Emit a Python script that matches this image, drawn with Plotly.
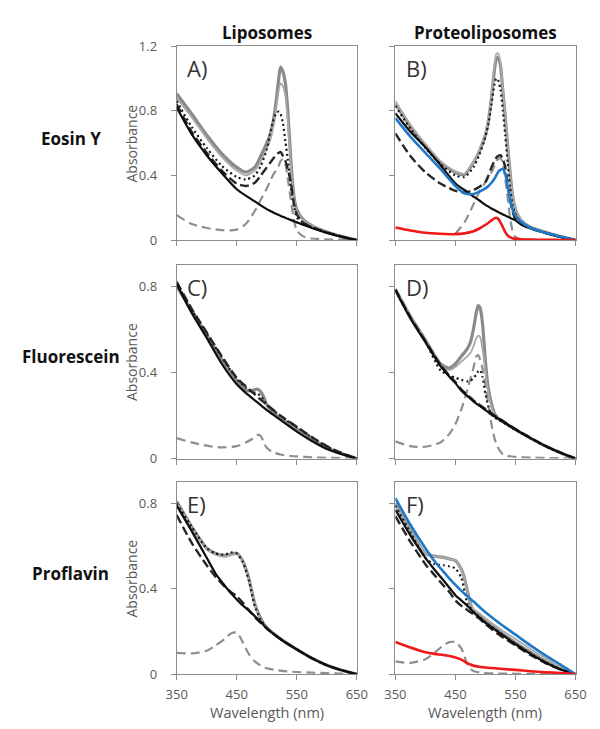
import plotly.graph_objects as go

# ---------------------------------------------------------------- data
# Panel A: Eosin Y, liposomes
wl_a = [350, 375, 400, 425, 450, 465, 480, 490, 500, 505, 510, 515, 520, 523,
        527, 531, 535, 540, 545, 550, 560, 575, 600, 625, 650]
a_base = [0.82, 0.655, 0.525, 0.415, 0.315, 0.275, 0.24, 0.215, 0.192, 0.182, 0.172,
          0.163, 0.155, 0.15, 0.144, 0.138, 0.132, 0.124, 0.117, 0.11, 0.096, 0.075,
          0.045, 0.02, 0.0]
a_fit = [0.84, 0.67, 0.54, 0.43, 0.35, 0.335, 0.355, 0.40, 0.45, 0.475, 0.50, 0.525,
         0.54, 0.545, 0.52, 0.49, 0.44, 0.36, 0.23, 0.16, 0.11, 0.08, 0.048, 0.022, 0.0]
a_total1 = [0.905, 0.78, 0.65, 0.535, 0.45, 0.42, 0.45, 0.52, 0.60, 0.645, 0.72, 0.84,
            1.0, 1.07, 1.04, 0.97, 0.80, 0.50, 0.28, 0.19, 0.13, 0.09, 0.05, 0.022, 0.0]
a_total2 = [0.88, 0.76, 0.63, 0.515, 0.43, 0.40, 0.43, 0.49, 0.565, 0.61, 0.68, 0.79,
            0.93, 0.97, 0.95, 0.89, 0.74, 0.47, 0.27, 0.18, 0.125, 0.088, 0.05, 0.022, 0.0]
a_sum = [0.86, 0.70, 0.57, 0.46, 0.39, 0.375, 0.40, 0.46, 0.56, 0.65, 0.73, 0.78,
         0.795, 0.78, 0.72, 0.61, 0.50, 0.33, 0.22, 0.14, 0.11, 0.08, 0.048, 0.022, 0.0]
a_dye = [0.155, 0.10, 0.075, 0.062, 0.065, 0.10, 0.18, 0.25, 0.32, 0.36, 0.40, 0.43,
         0.46, 0.49, 0.50, 0.47, 0.38, 0.25, 0.13, 0.06, 0.025, 0.01, 0.005, 0.003, 0.0]

# Panel B: Eosin Y, proteoliposomes
wl_b = [350, 375, 400, 425, 450, 465, 480, 490, 500, 505, 510, 515, 518, 521, 525,
        529, 533, 537, 541, 545, 550, 560, 575, 600, 625, 650]
b_base = [0.785, 0.67, 0.575, 0.465, 0.35, 0.31, 0.27, 0.245, 0.218, 0.207, 0.196,
          0.186, 0.18, 0.174, 0.166, 0.159, 0.152, 0.145, 0.138, 0.131, 0.122, 0.095,
          0.072, 0.045, 0.02, 0.0]
b_fit = [0.66, 0.52, 0.42, 0.35, 0.305, 0.295, 0.31, 0.33, 0.36, 0.40, 0.45, 0.49,
         0.51, 0.52, 0.525, 0.50, 0.45, 0.35, 0.25, 0.18, 0.13, 0.10, 0.072, 0.044, 0.02, 0.0]
b_total1 = [0.845, 0.70, 0.58, 0.48, 0.42, 0.405, 0.48, 0.55, 0.65, 0.74, 0.88, 1.05,
            1.12, 1.13, 1.08, 0.92, 0.76, 0.58, 0.42, 0.28, 0.19, 0.12, 0.08, 0.048,
            0.022, 0.0]
b_total2 = [0.86, 0.715, 0.595, 0.49, 0.425, 0.41, 0.485, 0.56, 0.665, 0.76, 0.90,
            1.08, 1.15, 1.155, 1.10, 0.94, 0.77, 0.59, 0.43, 0.29, 0.195, 0.122, 0.081,
            0.048, 0.022, 0.0]
b_sum = [0.83, 0.69, 0.57, 0.47, 0.40, 0.39, 0.45, 0.53, 0.64, 0.72, 0.84, 0.96, 1.0,
         0.99, 0.93, 0.80, 0.65, 0.48, 0.33, 0.22, 0.16, 0.11, 0.078, 0.046, 0.021, 0.0]
b_dye = [None, None, None, None, 0.04, 0.11, 0.22, 0.30, 0.36, 0.39, 0.42, 0.46, 0.49,
         0.50, 0.51, 0.47, 0.38, 0.26, 0.14, 0.06, 0.02, 0.005, 0.003, 0.002, 0.001, 0.0]
b_protein = [0.755, 0.64, 0.54, 0.44, 0.335, 0.29, 0.285, 0.30, 0.32, 0.335, 0.355,
             0.38, 0.40, 0.42, 0.435, 0.44, 0.41, 0.33, 0.25, 0.19, 0.15, 0.11, 0.075,
             0.045, 0.022, 0.0]
b_bound = [0.078, 0.06, 0.046, 0.04, 0.037, 0.042, 0.055, 0.072, 0.095, 0.108, 0.122,
           0.135, 0.138, 0.132, 0.11, 0.08, 0.05, 0.03, 0.018, 0.012, 0.008, 0.005,
           0.003, 0.002, 0.001, 0.0]

# Panel C: Fluorescein, liposomes
wl_c = [350, 375, 400, 425, 450, 465, 475, 480, 485, 490, 495, 500, 510, 525, 550,
        575, 600, 625, 650]
c_base = [0.81, 0.675, 0.56, 0.44, 0.345, 0.305, 0.282, 0.27, 0.26, 0.248, 0.236,
          0.225, 0.205, 0.175, 0.125, 0.082, 0.045, 0.02, 0.0]
c_fit = [0.82, 0.695, 0.585, 0.475, 0.375, 0.335, 0.31, 0.298, 0.285, 0.273, 0.262,
         0.25, 0.228, 0.195, 0.148, 0.10, 0.058, 0.026, 0.0]
c_total = [0.80, 0.685, 0.575, 0.46, 0.362, 0.318, 0.315, 0.32, 0.322, 0.31, 0.285,
           0.25, 0.215, 0.183, 0.138, 0.092, 0.051, 0.022, 0.0]
c_sum = [0.815, 0.69, 0.58, 0.47, 0.37, 0.33, 0.31, 0.305, 0.30, 0.29, 0.27, 0.25,
         0.226, 0.193, 0.146, 0.098, 0.056, 0.025, 0.0]
c_dye = [0.095, 0.075, 0.06, 0.052, 0.058, 0.075, 0.09, 0.10, 0.11, 0.105, 0.075, 0.05,
         0.03, 0.018, 0.01, 0.006, 0.004, 0.002, 0.0]

# Panel D: Fluorescein, proteoliposomes
wl_d = [350, 375, 400, 425, 440, 450, 460, 470, 475, 480, 485, 488, 491, 495, 500,
        505, 510, 515, 520, 530, 550, 575, 600, 625, 650]
d_base = [0.78, 0.65, 0.54, 0.43, 0.38, 0.35, 0.315, 0.29, 0.278, 0.265, 0.255, 0.249,
          0.243, 0.235, 0.225, 0.215, 0.205, 0.196, 0.187, 0.17, 0.135, 0.095, 0.058,
          0.027, 0.0]
d_fit = [0.785, 0.655, 0.545, 0.435, 0.385, 0.355, 0.32, 0.295, 0.283, 0.27, 0.26,
         0.254, 0.248, 0.24, 0.23, 0.22, 0.21, 0.2, 0.191, 0.173, 0.137, 0.097, 0.059,
         0.028, 0.0]
d_total1 = [0.785, 0.66, 0.55, 0.44, 0.42, 0.44, 0.475, 0.51, 0.54, 0.60, 0.68, 0.71,
            0.70, 0.63, 0.45, 0.32, 0.255, 0.21, 0.19, 0.17, 0.135, 0.095, 0.058,
            0.027, 0.0]
d_total2 = [0.785, 0.66, 0.55, 0.43, 0.41, 0.425, 0.45, 0.475, 0.49, 0.52, 0.56, 0.57,
            0.565, 0.51, 0.40, 0.30, 0.24, 0.205, 0.188, 0.17, 0.135, 0.095, 0.058,
            0.027, 0.0]
d_sum = [0.78, 0.652, 0.543, 0.41, 0.385, 0.375, 0.365, 0.358, 0.36, 0.375, 0.39,
         0.405, 0.41, 0.38, 0.30, 0.24, 0.205, 0.19, 0.183, 0.167, 0.133, 0.094, 0.057,
         0.026, 0.0]
d_dye = [0.08, 0.058, 0.055, 0.075, 0.115, 0.16, 0.23, 0.32, 0.37, 0.42, 0.475, 0.48,
         0.46, 0.42, 0.34, 0.25, 0.16, 0.095, 0.055, 0.018, 0.008, 0.005, 0.003, 0.002,
         0.0]

# Panel E: Proflavin, liposomes
wl_e = [350, 375, 400, 415, 430, 440, 450, 460, 470, 480, 490, 500, 525, 550, 575,
        600, 625, 650]
e_base = [0.79, 0.67, 0.545, 0.47, 0.415, 0.38, 0.35, 0.322, 0.298, 0.272, 0.245,
          0.215, 0.16, 0.116, 0.075, 0.042, 0.018, 0.0]
e_fit = [0.745, 0.615, 0.51, 0.455, 0.41, 0.385, 0.365, 0.335, 0.30, 0.268, 0.24,
         0.214, 0.16, 0.116, 0.075, 0.042, 0.018, 0.0]
e_total1 = [0.81, 0.69, 0.59, 0.565, 0.555, 0.562, 0.567, 0.53, 0.45, 0.33, 0.26,
            0.218, 0.161, 0.116, 0.075, 0.042, 0.018, 0.0]
e_total2 = [0.805, 0.685, 0.585, 0.56, 0.55, 0.557, 0.562, 0.525, 0.445, 0.326, 0.258,
            0.217, 0.161, 0.116, 0.075, 0.042, 0.018, 0.0]
e_sum = [0.80, 0.69, 0.59, 0.565, 0.56, 0.57, 0.565, 0.525, 0.44, 0.32, 0.255, 0.215,
         0.16, 0.116, 0.075, 0.042, 0.018, 0.0]
e_dye = [0.10, 0.097, 0.11, 0.135, 0.165, 0.19, 0.195, 0.15, 0.095, 0.06, 0.04, 0.028,
         0.015, 0.01, 0.007, 0.005, 0.003, 0.0]

# Panel F: Proflavin, proteoliposomes
wl_f = [350, 375, 400, 415, 430, 440, 450, 460, 465, 470, 475, 480, 490, 500, 525,
        550, 575, 600, 625, 650]
f_base = [0.77, 0.65, 0.545, 0.49, 0.44, 0.405, 0.37, 0.345, 0.333, 0.32, 0.305, 0.29,
          0.265, 0.24, 0.19, 0.14, 0.095, 0.055, 0.022, 0.0]
f_fit = [0.74, 0.62, 0.515, 0.465, 0.415, 0.385, 0.345, 0.32, 0.31, 0.30, 0.29, 0.28,
         0.26, 0.235, 0.18, 0.135, 0.09, 0.052, 0.022, 0.0]
f_total1 = [0.80, 0.675, 0.565, 0.553, 0.547, 0.54, 0.532, 0.49, 0.45, 0.39, 0.33,
            0.295, 0.272, 0.248, 0.196, 0.147, 0.102, 0.06, 0.026, 0.0]
f_total2 = [0.80, 0.675, 0.565, 0.553, 0.547, 0.54, 0.532, 0.49, 0.45, 0.39, 0.335,
            0.305, 0.285, 0.262, 0.21, 0.165, 0.118, 0.075, 0.035, 0.0]
f_sum = [0.79, 0.665, 0.545, 0.515, 0.51, 0.505, 0.495, 0.45, 0.39, 0.33, 0.31, 0.295,
         0.268, 0.243, 0.192, 0.142, 0.097, 0.056, 0.023, 0.0]
f_dye = [0.06, 0.053, 0.07, 0.10, 0.135, 0.15, 0.15, 0.12, 0.085, 0.045, 0.025, 0.015,
         0.008, 0.005, 0.003, 0.002, 0.001, 0.001, 0.0, 0.0]
f_protein = [0.824, 0.70, 0.59, 0.53, 0.48, 0.448, 0.418, 0.39, 0.378, 0.365, 0.352,
             0.34, 0.315, 0.29, 0.235, 0.185, 0.135, 0.088, 0.045, 0.0]
f_bound = [0.151, 0.125, 0.103, 0.095, 0.09, 0.085, 0.078, 0.068, 0.06, 0.052, 0.045,
           0.04, 0.035, 0.031, 0.025, 0.02, 0.014, 0.009, 0.005, 0.0]

panel_labels = ["A)", "B)", "C)", "D)", "E)", "F)"]
column_titles = ["Liposomes", "Proteoliposomes"]
row_titles = ["Eosin Y", "Fluorescein", "Proflavin"]
x_ticks = [350, 450, 550, 650]
y_ticks_top = [0, 0.4, 0.8, 1.2]
y_ticks_low = [0, 0.4, 0.8]
y_tick_text_top = ["0", "0.4", "0.8", "1.2"]
y_tick_text_low = ["0", "0.4", "0.8"]
y_max = [1.2, 0.9, 0.9]

# ---------------------------------------------------------------- styles
STYLE = {
    "dye":     dict(color="#8f8f8f", width=2.2, dash="9px,5px"),
    "total1":  dict(color="#8a8a8a", width=3.2, dash="solid"),
    "total2":  dict(color="#a9a9a9", width=1.8, dash="solid"),
    "sum":     dict(color="#1a1a1a", width=2.2, dash="2px,3px"),
    "fit":     dict(color="#262626", width=2.4, dash="9px,4px"),
    "base":    dict(color="#0d0d0d", width=2.2, dash="solid"),
    "protein": dict(color="#1f78c8", width=2.6, dash="solid"),
    "bound":   dict(color="#f01818", width=2.6, dash="solid"),
}
ORDER = ["dye", "total1", "total2", "sum", "fit", "base", "protein", "bound"]

panels = [
    (wl_a, dict(dye=a_dye, total1=a_total1, total2=a_total2, sum=a_sum, fit=a_fit,
                base=a_base)),
    (wl_b, dict(dye=b_dye, total1=b_total1, total2=b_total2, sum=b_sum, fit=b_fit,
                base=b_base, protein=b_protein, bound=b_bound)),
    (wl_c, dict(dye=c_dye, total1=c_total, sum=c_sum, fit=c_fit, base=c_base)),
    (wl_d, dict(dye=d_dye, total1=d_total1, total2=d_total2, sum=d_sum, fit=d_fit,
                base=d_base)),
    (wl_e, dict(dye=e_dye, total1=e_total1, total2=e_total2, sum=e_sum, fit=e_fit,
                base=e_base)),
    (wl_f, dict(dye=f_dye, total1=f_total1, total2=f_total2, sum=f_sum, fit=f_fit,
                base=f_base, protein=f_protein, bound=f_bound)),
]

W, H = 600, 729
col_px = [(172, 359), (399, 586)]
row_px = [(38, 237), (262, 461), (485, 682)]

FONT = "Open Sans, Lato, sans-serif"
AXIS_GREY = "#8c8c8c"
TICK_TEXT = "#595959"

fig = go.Figure()
layout = dict(
    width=W, height=H, margin=dict(l=0, r=0, t=0, b=0),
    paper_bgcolor="white", plot_bgcolor="white", showlegend=False,
    font=dict(family=FONT, color=TICK_TEXT),
)
annotations = []

for i, (wl, series) in enumerate(panels):
    r, c = divmod(i, 2)
    n = i + 1
    xa = "x" if n == 1 else f"x{n}"
    ya = "y" if n == 1 else f"y{n}"
    for key in ORDER:
        if key not in series:
            continue
        st = STYLE[key]
        fig.add_trace(go.Scatter(
            x=wl, y=series[key], mode="lines", xaxis=xa, yaxis=ya,
            line=dict(color=st["color"], width=st["width"], dash=st["dash"],
                      shape="spline", smoothing=0.7),
            connectgaps=False, hoverinfo="skip"))

    x0, x1 = col_px[c]
    y0, y1 = row_px[r]
    xdom = [x0 / W, x1 / W]
    ydom = [1 - y1 / H, 1 - y0 / H]
    top = r == 0
    layout["xaxis" if n == 1 else f"xaxis{n}"] = dict(
        domain=xdom, range=[350, 650], anchor=ya,
        tickvals=x_ticks, ticks="outside", ticklen=5, tickcolor=AXIS_GREY,
        showticklabels=(r == 2), ticklabelstandoff=3,
        tickfont=dict(size=13, color=TICK_TEXT, family=FONT),
        showline=True, mirror=True, linecolor=AXIS_GREY, linewidth=1,
        showgrid=False, zeroline=False, fixedrange=True)
    layout["yaxis" if n == 1 else f"yaxis{n}"] = dict(
        domain=ydom, range=[0, y_max[r]], anchor=xa,
        tickvals=y_ticks_top if top else y_ticks_low,
        ticktext=y_tick_text_top if top else y_tick_text_low,
        ticks="outside", ticklen=5, tickcolor=AXIS_GREY,
        showticklabels=(c == 0), ticklabelstandoff=11,
        tickfont=dict(size=13, color=TICK_TEXT, family=FONT),
        showline=True, mirror=True, linecolor=AXIS_GREY, linewidth=1,
        showgrid=False, zeroline=False, fixedrange=True)

    # panel letter
    annotations.append(dict(
        text=panel_labels[i], xref="paper", yref="paper",
        x=(x0 + 9) / W, y=1 - (y0 + 23) / H, xanchor="left", yanchor="middle",
        showarrow=False, font=dict(size=22, color="#333333", family=FONT)))

    if c == 0:
        annotations.append(dict(
            text="Absorbance", xref="paper", yref="paper",
            x=125 / W, y=1 - ((y0 + y1) / 2) / H, xanchor="center", yanchor="middle",
            textangle=-90, showarrow=False,
            font=dict(size=14, color=TICK_TEXT, family=FONT)))
        annotations.append(dict(
            text=f"<b>{row_titles[r]}</b>", xref="paper", yref="paper",
            x=62 / W, y=1 - ((y0 + y1) / 2 - 5) / H, xanchor="center",
            yanchor="middle", showarrow=False,
            font=dict(size=17, color="#111111", family=FONT)))
    if r == 0:
        annotations.append(dict(
            text=f"<b>{column_titles[c]}</b>", xref="paper", yref="paper",
            x=((x0 + x1) / 2) / W, y=1 - 24 / H, xanchor="center", yanchor="middle",
            showarrow=False, font=dict(size=17, color="#111111", family=FONT)))
    if r == 2:
        annotations.append(dict(
            text="Wavelength (nm)", xref="paper", yref="paper",
            x=((x0 + x1) / 2) / W, y=1 - 721 / H, xanchor="center", yanchor="middle",
            borderpad=0, showarrow=False,
            font=dict(size=14.5, color=TICK_TEXT, family=FONT)))

layout["annotations"] = annotations
fig.update_layout(**layout)
fig.write_html("out.html")
